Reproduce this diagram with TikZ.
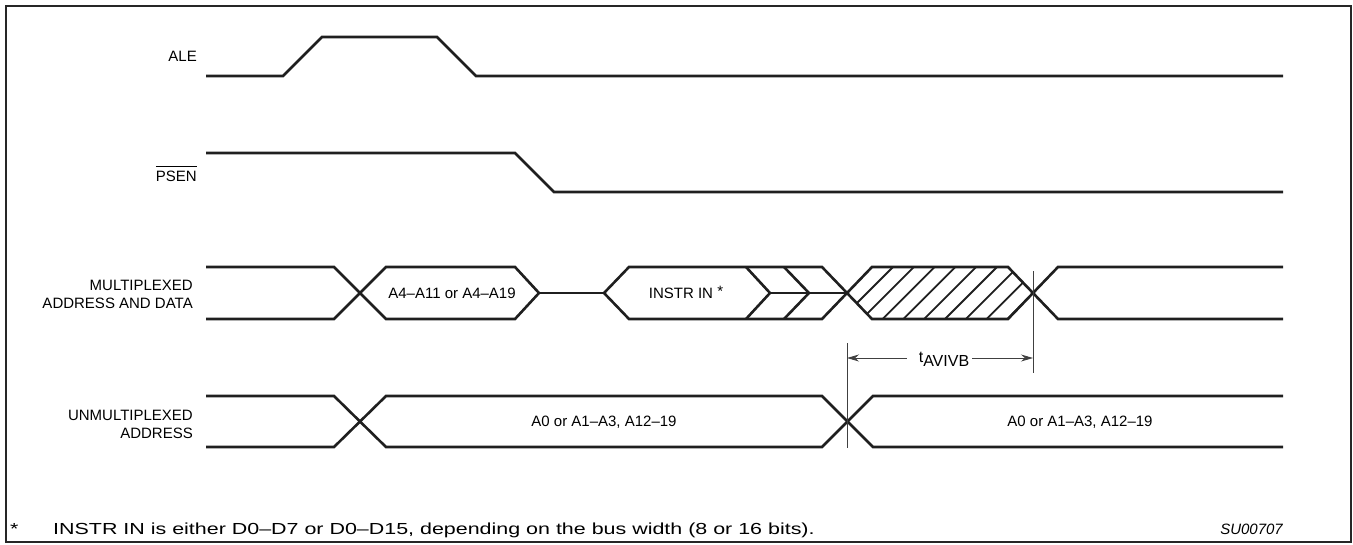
\documentclass[tikz,border=0pt]{standalone}
\usepackage{fontspec}
\setmainfont{Liberation Sans}
\newfontfamily\notefont[FakeStretch=1.34]{Liberation Sans}
\usetikzlibrary{arrows.meta}

\tikzset{
	sig/.style={line width=2.6pt, line join=miter, color=black!88},
	hatchline/.style={line width=1.8pt, color=black!88},
	dimline/.style={line width=0.9pt, color=black!75},
	lbl/.style={inner sep=0pt, font=\fontsize{15}{18}\selectfont, text height=10.7pt, text depth=0pt}
}

\begin{document}
\begin{tikzpicture}[x=1pt,y=-1pt]
				\useasboundingbox (0,0) rectangle (1353,544);
				\draw[line width=1.8pt, black!85] (6,6) rectangle (1351,542);
				
				% Signal names
				\node[lbl, anchor=east] (ale) at (197,56) {ALE};
				\node[lbl, anchor=east] (psen) at (197,176) {PSEN};
				\draw[line width=1pt] ([yshift=3.5pt]psen.north west) -- ([yshift=3.5pt]psen.north east);
				\node[lbl, anchor=east] (mux1) at (193,285) {MULTIPLEXED};
				\node[lbl, anchor=east] (mux2) at (193,303) {ADDRESS AND DATA};
				\node[lbl, anchor=east] (unmux1) at (193,415) {UNMULTIPLEXED};
				\node[lbl, anchor=east] (unmux2) at (193,433) {ADDRESS};
				
				% ALE and PSEN
				\draw[sig] (206,76) -- (283,76) -- (322,37) -- (437,37) -- (476,76) -- (1283,76);
				\draw[sig] (206,153) -- (515,153) -- (554,192) -- (1283,192);
				
				% Multiplexed address and data
				\draw[sig] (206,267) -- (334,267) -- (386,319) -- (515,319) -- (539,293) -- (515,267) -- (386,267) -- (334,319) -- (206,319);
				\draw[sig] (539,293) -- (604,293);
				\draw[sig] (604,293) -- (629,267) -- (822,267) -- (847,293) -- (822,319) -- (629,319) -- cycle;
				\draw[sig] (746,267) -- (770,293) -- (746,319);
				\draw[sig] (784,267) -- (809,293) -- (784,319);
				\draw[sig] (770,293) -- (847,293);
				\node[lbl] (addr) at (452,293) {A4–A11 or A4–A19};
				\node[lbl] (instr) at (686,293) {INSTR IN \raisebox{2pt}{*}};
				
				% Invalid region, hatched
				\begin{scope}
					\clip (847,293) -- (872,267) -- (1008,267) -- (1033,293) -- (1008,319) -- (872,319) -- cycle;
					\foreach \k in {0,...,8}
						\draw[hatchline] ({898+20.8*\k},262) -- ({836+20.8*\k},324);
				\end{scope}
				\draw[sig] (847,293) -- (872,267) -- (1008,267) -- (1033,293) -- (1008,319) -- (872,319) -- cycle;
				\draw[sig] (1033,293) -- (1058,267) -- (1283,267);
				\draw[sig] (1033,293) -- (1058,319) -- (1283,319);
				
				% Unmultiplexed address
				\draw[sig] (206,396) -- (334,396) -- (386,447) -- (822,447) -- (873,396) -- (1283,396);
				\draw[sig] (206,447) -- (334,447) -- (386,396) -- (822,396) -- (873,447) -- (1283,447);
				\node[lbl] (lo) at (604,421) {A0 or A1–A3, A12–19};
				\node[lbl] (hi) at (1080,421) {A0 or A1–A3, A12–19};
				
				% Timing t_AVIVB
				\coordinate (dl) at (847,358);
				\coordinate (dr) at (1033,358);
				\draw[dimline] (847,343) -- (847,448);
				\draw[dimline] (1033,271) -- (1033,373);
				\node[lbl, font=\fontsize{16}{18}\selectfont] (tav) at (944,357) {t\raisebox{-4pt}{AVIVB}};
				\draw[dimline, -{Stealth[length=12pt,width=7pt]}] ([xshift=-12pt]tav.west |- dl) -- (dl);
				\draw[dimline, -{Stealth[length=12pt,width=7pt]}] ([xshift=3pt]tav.east |- dr) -- (dr);
				
				% Footnote
				\node[lbl, anchor=base west, font=\notefont\fontsize{16}{18}\selectfont] (star) at (10,534) {*};
				\node[lbl, anchor=base west, font=\notefont\fontsize{16}{18}\selectfont] (note) at (53,534) {INSTR IN is either D0–D7 or D0–D15, depending on the bus width (8 or 16 bits).};
				\node[lbl, anchor=base east, font=\fontsize{15}{18}\selectfont\itshape] (fig) at (1283,534) {SU00707};
\end{tikzpicture}
\end{document}
